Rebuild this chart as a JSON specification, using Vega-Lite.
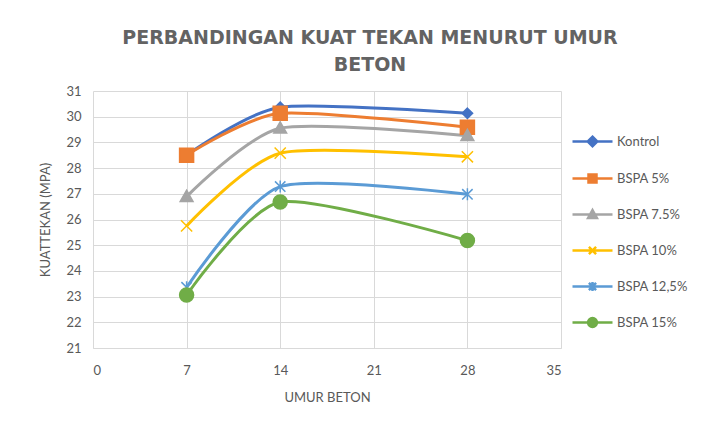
{
  "$schema": "https://vega.github.io/schema/vega-lite/v6.json",
  "width": 468,
  "height": 257,
  "autosize": {"type": "none"},
  "padding": {"left": 93, "top": 91, "right": 159, "bottom": 84},
  "background": "white",
  "title": {
    "text": ["PERBANDINGAN KUAT TEKAN MENURUT UMUR", "BETON"],
    "anchor": "middle",
    "frame": "group",
    "dx": 43,
    "offset": 10,
    "font": "DejaVu Sans",
    "fontSize": 19,
    "fontWeight": "bold",
    "color": "#636363",
    "lineHeight": 27
  },
  "config": {
    "view": {"stroke": null},
    "axis": {
      "labelFont": "Lato",
      "labelFontSize": 13,
      "labelColor": "#595959",
      "titleFont": "Lato",
      "titleFontSize": 13,
      "titleFontWeight": "normal",
      "titleColor": "#595959",
      "gridColor": "#d9d9d9",
      "gridWidth": 1,
      "domainColor": "#d9d9d9",
      "ticks": false
    }
  },
  "data": {
    "values": [
      {"umur": 7, "kuat": 28.5, "seri": "Kontrol"},
      {"umur": 14, "kuat": 30.37, "seri": "Kontrol"},
      {"umur": 28, "kuat": 30.13, "seri": "Kontrol"},
      {"umur": 7, "kuat": 28.5, "seri": "BSPA 5%"},
      {"umur": 14, "kuat": 30.13, "seri": "BSPA 5%"},
      {"umur": 28, "kuat": 29.59, "seri": "BSPA 5%"},
      {"umur": 7, "kuat": 26.89, "seri": "BSPA 7.5%"},
      {"umur": 14, "kuat": 29.55, "seri": "BSPA 7.5%"},
      {"umur": 28, "kuat": 29.26, "seri": "BSPA 7.5%"},
      {"umur": 7, "kuat": 25.75, "seri": "BSPA 10%"},
      {"umur": 14, "kuat": 28.58, "seri": "BSPA 10%"},
      {"umur": 28, "kuat": 28.44, "seri": "BSPA 10%"},
      {"umur": 7, "kuat": 23.36, "seri": "BSPA 12,5%"},
      {"umur": 14, "kuat": 27.28, "seri": "BSPA 12,5%"},
      {"umur": 28, "kuat": 26.98, "seri": "BSPA 12,5%"},
      {"umur": 7, "kuat": 23.06, "seri": "BSPA 15%"},
      {"umur": 14, "kuat": 26.68, "seri": "BSPA 15%"},
      {"umur": 28, "kuat": 25.18, "seri": "BSPA 15%"}
    ]
  },
  "encoding": {
    "x": {
      "field": "umur",
      "type": "quantitative",
      "scale": {"domain": [0, 35], "nice": false, "zero": false},
      "axis": {"values": [0, 7, 14, 21, 28, 35], "title": "UMUR BETON", "labelPadding": 16, "titlePadding": 14, "grid": true}
    },
    "y": {
      "field": "kuat",
      "type": "quantitative",
      "scale": {"domain": [21, 31], "nice": false, "zero": false},
      "axis": {"values": [21, 22, 23, 24, 25, 26, 27, 28, 29, 30, 31], "title": "KUATTEKAN (MPA)", "labelPadding": 12, "titleX": -41, "grid": true, "domain": false}
    }
  },
  "layer": [
    {
      "mark": {"type": "point", "filled": true, "size": 64, "opacity": 0},
      "encoding": {
        "color": {
          "field": "seri",
          "type": "nominal",
          "scale": {
            "domain": ["Kontrol", "BSPA 5%", "BSPA 7.5%", "BSPA 10%", "BSPA 12,5%", "BSPA 15%"],
            "range": ["#4472C4", "#ED7D31", "#A5A5A5", "#FFC000", "#5B9BD5", "#70AD47"]
          },
          "legend": {
            "title": null,
            "orient": "none",
            "legendX": 475,
            "legendY": 44,
            "rowPadding": 17,
            "labelFont": "Lato",
            "labelFontSize": 13,
            "labelColor": "#595959",
            "labelOffset": 36,
            "symbolSize": 64,
            "symbolOpacity": 1,
            "symbolStrokeWidth": 2.5
          }
        },
        "stroke": {
          "field": "seri",
          "type": "nominal",
          "scale": {
            "domain": ["Kontrol", "BSPA 5%", "BSPA 7.5%", "BSPA 10%", "BSPA 12,5%", "BSPA 15%"],
            "range": ["#4472C4", "#ED7D31", "#A5A5A5", "#FFC000", "#5B9BD5", "#70AD47"]
          }
        },
        "shape": {
          "field": "seri",
          "type": "nominal",
          "scale": {
            "domain": ["Kontrol", "BSPA 5%", "BSPA 7.5%", "BSPA 10%", "BSPA 12,5%", "BSPA 15%"],
            "range": [
              "M-0.5,0H9.5M4.5,-1.2L5.7,0L4.5,1.2L3.3,0ZM4.5,-0.5L5,0L4.5,0.5L4,0Z",
              "M-0.5,0H9.5M3.5,-1H5.5V1H3.5ZM4,-0.5H5V0.5H4Z",
              "M-0.5,0H9.5M4.5,-1.1L5.6,0.9H3.4ZM4.5,-0.4L5,0.45H4Z",
              "M-0.5,0H9.5M3.6,-0.9L5.4,0.9M3.6,0.9L5.4,-0.9",
              "M-0.5,0H9.5M3.6,-0.9L5.4,0.9M3.6,0.9L5.4,-0.9M4.5,-1.1V1.1",
              "M-0.5,0H9.5M5.6,0A1.1,1.1,0,1,1,3.4,0A1.1,1.1,0,1,1,5.6,0ZM5,0A0.5,0.5,0,1,1,4,0A0.5,0.5,0,1,1,5,0Z"
            ]
          }
        }
      }
    },
    {
      "mark": {"type": "line", "interpolate": "cardinal", "tension": 0.3, "strokeWidth": 3},
      "encoding": {
        "color": {"field": "seri", "type": "nominal"}
      }
    },
    {
      "transform": [{"filter": "datum.seri === 'Kontrol'"}],
      "mark": {"type": "point", "shape": "M0,-1.3L1.3,0L0,1.3L-1.3,0Z", "size": 64, "filled": true, "fill": "#4472C4", "stroke": "#4472C4", "strokeWidth": 1.5, "opacity": 1}
    },
    {
      "transform": [{"filter": "datum.seri === 'BSPA 5%'"}],
      "mark": {"type": "point", "shape": "M-1.75,-1.75H1.75V1.75H-1.75Z", "size": 64, "filled": true, "fill": "#ED7D31", "stroke": "#ED7D31", "strokeWidth": 1.5, "opacity": 1}
    },
    {
      "transform": [{"filter": "datum.seri === 'BSPA 7.5%'"}],
      "mark": {"type": "point", "shape": "M0,-1.6L1.6,1.2H-1.6Z", "size": 64, "filled": true, "fill": "#A5A5A5", "stroke": "#A5A5A5", "strokeWidth": 1.5, "opacity": 1}
    },
    {
      "transform": [{"filter": "datum.seri === 'BSPA 10%'"}],
      "mark": {"type": "point", "shape": "M-1.4,-1.4L1.4,1.4M-1.4,1.4L1.4,-1.4", "size": 64, "filled": true, "fill": "#FFC000", "stroke": "#FFC000", "strokeWidth": 1.5, "opacity": 1}
    },
    {
      "transform": [{"filter": "datum.seri === 'BSPA 12,5%'"}],
      "mark": {"type": "point", "shape": "M-1.3,-1.3L1.3,1.3M-1.3,1.3L1.3,-1.3M0,-1.5V1.5", "size": 64, "filled": true, "fill": "#5B9BD5", "stroke": "#5B9BD5", "strokeWidth": 1.5, "opacity": 1}
    },
    {
      "transform": [{"filter": "datum.seri === 'BSPA 15%'"}],
      "mark": {"type": "point", "shape": "M1.75,0A1.75,1.75,0,1,1,-1.75,0A1.75,1.75,0,1,1,1.75,0Z", "size": 64, "filled": true, "fill": "#70AD47", "stroke": "#70AD47", "strokeWidth": 1.5, "opacity": 1}
    }
  ]
}
